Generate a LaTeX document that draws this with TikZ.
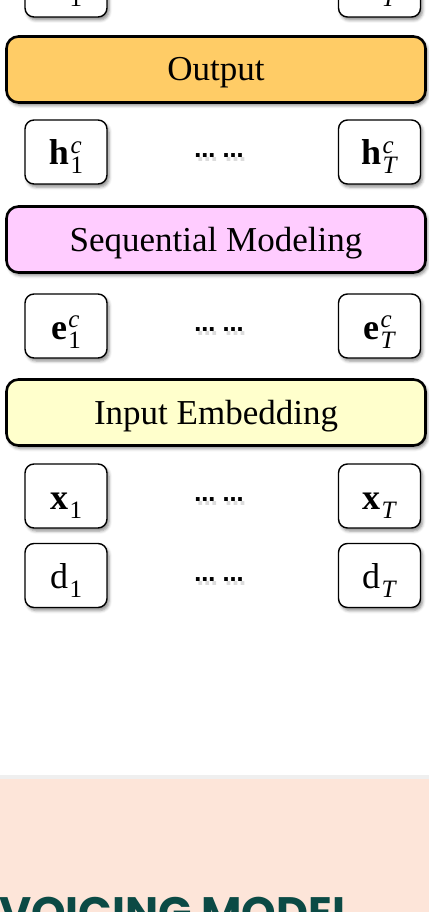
\documentclass[tikz,border=0pt]{standalone}
\usepackage{fontspec}
\setmainfont{Liberation Serif}
\newfontfamily\titlefont{Poppins}
\newfontfamily\dotfont{DejaVu Sans}
\usetikzlibrary{shadows.blur}
\newcommand{\scriptsz}{\fontsize{25}{25}\selectfont}
\newcommand{\vsym}[3]{#1\kern1.5pt\rlap{\raisebox{12pt}{\scriptsz #2}}\raisebox{-9pt}{\scriptsz #3}}
\definecolor{outfill}{RGB}{255,204,102}
\definecolor{seqfill}{RGB}{255,204,255}
\definecolor{inpfill}{RGB}{255,255,204}
\definecolor{peach}{RGB}{253,229,217}
\definecolor{stripgray}{RGB}{239,239,239}
\definecolor{titlecol}{RGB}{11,74,69}
\begin{document}
\begin{tikzpicture}[x=1pt,y=-1pt,
  softshadow/.style={blur shadow={shadow xshift=2pt, shadow yshift=-3pt, shadow blur radius=3pt, shadow opacity=45}},
  cell/.style={draw=black, line width=1.4pt, fill=white, rounded corners=9pt,
    minimum width=82pt, minimum height=64pt, inner sep=0pt,
    text height=26pt, text depth=0pt, font=\fontsize{36}{42}\selectfont, softshadow},
  bar/.style={draw=black, line width=2.6pt, rounded corners=12pt,
    minimum width=419pt, minimum height=66pt, inner sep=0pt,
    text height=23pt, text depth=0pt, font=\fontsize{35}{40}\selectfont, softshadow},
  dotsbl/.style={anchor=base, inner sep=0pt, font=\dotfont\bfseries\fontsize{21}{24}\selectfont},
  dotsshadow/.style={dotsbl, text=black!30, opacity=0.45}
]
\useasboundingbox (0,0) rectangle (429,912);
\begin{scope}
\clip (0,0) rectangle (429,912);

% bottom section
\fill[stripgray] (0,775) rectangle (429,779);
\fill[peach] (0,779) rectangle (429,912);
\node[anchor=base west, inner sep=0pt, text=titlecol,
  font=\titlefont\bfseries\fontsize{44}{50}\selectfont] (title) at (-1,928) {VOICING MODEL};

% top (cut) row
\node[cell] (o1) at (66,-15) {\vsym{\textbf{o}}{}{1}};
\node[cell] (oT) at (379.5,-15) {\vsym{\textbf{o}}{}{\textit{T}}};

% Output
\node[bar, fill=outfill] (out) at (216,69.5) {Output};

% h row
\node[cell] (h1) at (66,152) {\vsym{\textbf{h}}{\textit{c}}{1}};
\node[cell] (hT) at (379.5,152) {\vsym{\textbf{h}}{\textit{c}}{\textit{T}}};
\node[dotsshadow] (hds) at (221.5,161.5) {… …};
\node[dotsbl] (hd) at (219,157.5) {… …};

% Sequential Modeling
\node[bar, fill=seqfill] (seq) at (216,239.5) {Sequential Modeling};

% e row
\node[cell] (e1) at (66,326) {\vsym{\textbf{e}}{\textit{c}}{1}};
\node[cell] (eT) at (379.5,326) {\vsym{\textbf{e}}{\textit{c}}{\textit{T}}};
\node[dotsshadow] (eds) at (221.5,335.5) {… …};
\node[dotsbl] (ed) at (219,331.5) {… …};

% Input Embedding
\node[bar, fill=inpfill] (inp) at (216,412.5) {Input Embedding};

% x row
\node[cell] (x1) at (66,496) {\vsym{\textbf{x}}{}{1}};
\node[cell] (xT) at (379.5,496) {\vsym{\textbf{x}}{}{\textit{T}}};
\node[dotsshadow] (xds) at (221.5,505.5) {… …};
\node[dotsbl] (xd) at (219,501.5) {… …};

% d row
\node[cell] (d1) at (66,575.5) {\vsym{d}{}{1}};
\node[cell] (dT) at (379.5,575.5) {\vsym{d}{}{\textit{T}}};
\node[dotsshadow] (dds) at (221.5,585) {… …};
\node[dotsbl] (dd) at (219,581) {… …};
\end{scope}
\end{tikzpicture}
\end{document}
